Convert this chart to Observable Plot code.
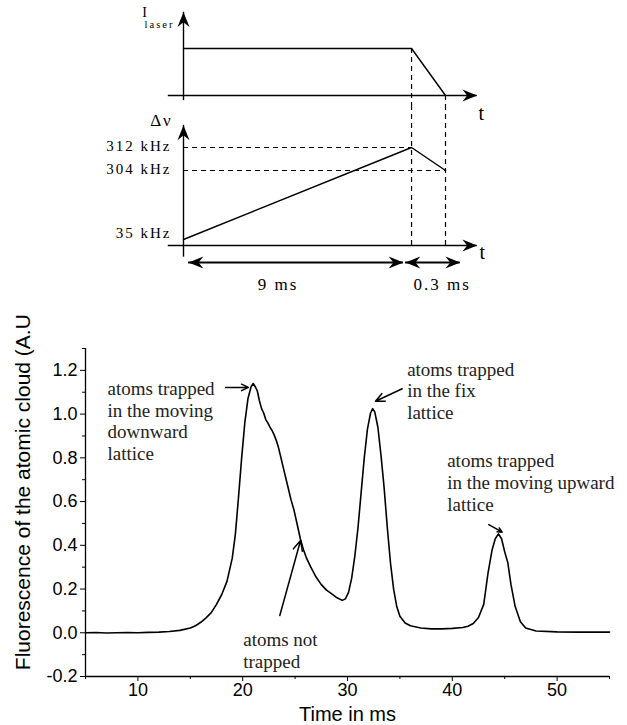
<!DOCTYPE html>
<html><head><meta charset="utf-8">
<script src="https://cdn.jsdelivr.net/npm/d3@7"></script>
<script src="https://cdn.jsdelivr.net/npm/@observablehq/plot@0.6"></script>
<style>
html,body{margin:0;padding:0;background:#fff;}
#fig{width:627px;}
#fig svg{display:block;}
#schem text{letter-spacing:2px;}
#schem svg.freq{margin-top:-22px;}
</style></head><body>
<div id="fig"><div id="schem"></div><div id="main"></div></div>
<script>
// ---------- schematic (timing diagram) data ----------
const rampTimes = [0, 9, 9.3];            // ms : ramp start, ramp end, end of switch-off
const laserT = [0, 9, 9.3];
const laserI = [1, 1, 0];
const freqT = [0, 9, 9.3];
const freqKHz = [35, 312, 304];
const freqTicks = [312, 304, 35];
const freqTickLabels = ["312 kHz", "304 kHz", "35 kHz"];
const durFrom = [0.2, 8.76];
const durTo = [8.68, 9.43];
const durLabelT = [3.73, 9.27];
const durLabels = ["9 ms", "0.3 ms"];
const tAxisStart = -0.6, tAxisEnd = 9.58;
const laserAxisBottom = -0.11, laserAxisTop = 1.77;
const freqAxisBottom = -68, freqAxisTop = 319.7;
// the sketch is not drawn to scale: drawn length of each time / frequency step
const timeKnots = [0, 9, 9.3], timeDrawn = [0, 9, 10.34];
const freqKnots = [0, 35, 304, 312], freqDrawn = [0, 6, 75, 98];

// ---------- measured fluorescence signal ----------
const timeMs = [5,6,7,8,9,10,11,12,13,14,15,15.5,16,16.5,17,17.5,18,18.5,19,19.3,19.6,19.9,20.2,20.5,20.8,21,21.2,21.4,21.6,21.8,22,22.2,22.4,22.6,22.8,23,23.2,23.4,23.6,23.8,24,24.3,24.6,24.9,25.2,25.5,25.8,26.1,26.5,27,27.5,28,28.5,29,29.5,29.8,30.1,30.4,30.7,31,31.3,31.6,31.9,32.2,32.4,32.6,32.9,33.2,33.5,33.8,34.1,34.4,34.7,35,35.5,36,37,38,39,40,41,41.5,42,42.5,43,43.4,43.8,44.1,44.4,44.7,45,45.3,45.6,46,46.5,47,48,50,52,55];
const fluo = [0,0.001,-0.001,0,0.001,0,0.002,0.003,0.006,0.011,0.022,0.032,0.048,0.068,0.092,0.13,0.175,0.235,0.34,0.45,0.62,0.8,0.96,1.07,1.125,1.14,1.125,1.105,1.06,1.025,1.005,0.975,0.96,0.94,0.925,0.905,0.88,0.85,0.81,0.77,0.73,0.67,0.61,0.56,0.495,0.43,0.38,0.34,0.3,0.255,0.22,0.195,0.178,0.16,0.148,0.155,0.185,0.25,0.35,0.48,0.64,0.8,0.93,1.005,1.025,1.01,0.94,0.81,0.66,0.48,0.32,0.2,0.12,0.075,0.045,0.032,0.022,0.018,0.018,0.02,0.024,0.03,0.042,0.07,0.13,0.27,0.38,0.43,0.452,0.43,0.37,0.32,0.22,0.12,0.05,0.022,0.008,0.004,0.003,0.003];

const xMajor = [10, 20, 30, 40, 50];
const xMinor = [5, 15, 25, 35, 45, 55];
const yMajor = [-0.2, 0, 0.2, 0.4, 0.6, 0.8, 1.0, 1.2];
const yMinor = [-0.1, 0.1, 0.3, 0.5, 0.7, 0.9, 1.1, 1.3];

const noteText = ["atoms trapped\nin the moving\ndownward\nlattice", "atoms not\ntrapped", "atoms trapped\nin the fix\nlattice", "atoms trapped\nin the moving upward\nlattice"];
const noteT = [7.1, 20.05, 35.69, 39.51];
const noteF = [0.971, -0.079, 1.108, 0.689];
const arrowT1 = [18.36, 23.54, 35.22, 43.48];
const arrowF1 = [1.122, 0.079, 1.116, 0.495];
const arrowT2 = [20.55, 25.52, 32.67, 44.76];
const arrowF2 = [1.122, 0.422, 1.059, 0.46];

// filled concave arrow-head symbol (tip at the anchor point, pointing up)
const arrowHead = {draw(ctx, size) {
  const s = Math.sqrt(size / Math.PI);
  ctx.moveTo(0, 0); ctx.lineTo(-0.75 * s, 1.85 * s); ctx.lineTo(0, 1.25 * s); ctx.lineTo(0.75 * s, 1.85 * s); ctx.closePath();
}};
const ax = {stroke: "black", strokeWidth: 1.4};
const dash = {stroke: "black", strokeWidth: 1.2, strokeDasharray: "5,4"};
const head = {symbol: arrowHead, r: 8, fill: "black", stroke: "none"};
const serif = "Liberation Serif";
const warpT = d3.scaleLinear().domain(timeKnots).range(timeDrawn);
const warpF = d3.scaleLinear().domain(freqKnots).range(freqDrawn);
const xSchem = {type: "linear", transform: warpT, domain: [0, timeDrawn[2]], range: [183, 445], axis: null};

const laserPlot = Plot.plot({
  width: 627, height: 127, margin: 0,
  x: xSchem,
  y: {domain: [0, 1], range: [95, 48], axis: null},
  style: {fontFamily: serif, background: "white", color: "black", overflow: "hidden"},
  marks: [
    Plot.ruleX([9], {y1: 1, y2: -0.2128, ...dash}),
    Plot.ruleX([9.3], {y1: 0, y2: -0.2128, ...dash}),
    Plot.ruleY([0], {x1: tAxisStart, x2: tAxisEnd, ...ax}),
    Plot.ruleX([0], {y1: laserAxisBottom, y2: laserAxisTop, ...ax}),
    Plot.line(laserT, {x: laserT, y: laserI, stroke: "black", strokeWidth: 1.4}),
    Plot.dot([0], {x: [tAxisEnd], y: [0], rotate: 90, ...head}),
    Plot.dot([0], {x: [0], y: [laserAxisTop], rotate: 0, ...head}),
    Plot.text(["I"], {x: [0], y: [laserAxisTop], dx: -38, dy: 0, fontSize: 14, textAnchor: "middle"}),
    Plot.text(["laser"], {x: [0], y: [laserAxisTop], dx: -24, dy: 12, fontSize: 10.5, textAnchor: "middle"}),
    Plot.text(["t"], {x: [tAxisEnd], y: [0], dx: 5, dy: 18, fontSize: 20, textAnchor: "middle", lineAnchor: "middle"})
  ]
});

const freqPlot = Plot.plot({
  width: 627, height: 195, margin: 0, className: "freq",
  x: xSchem,
  y: {type: "linear", transform: warpF, domain: [0, freqDrawn[3]], range: [140, 42], axis: null},
  style: {fontFamily: serif, background: "none", color: "black", overflow: "hidden"},
  marks: [
    Plot.ruleX([9, 9.3], {y1: 0, y2: 326.6, ...dash}),
    Plot.ruleY([312], {x1: 0, x2: 9, ...dash}),
    Plot.ruleY([304], {x1: 0, x2: 9.3, ...dash}),
    Plot.ruleY([0], {x1: tAxisStart, x2: tAxisEnd, ...ax}),
    Plot.ruleX([0], {y1: freqAxisBottom, y2: freqAxisTop, ...ax}),
    Plot.line(freqT, {x: freqT, y: freqKHz, stroke: "black", strokeWidth: 1.4}),
    Plot.dot([0], {x: [tAxisEnd], y: [0], rotate: 90, ...head}),
    Plot.dot([0], {x: [0], y: [freqAxisTop], rotate: 0, ...head}),
    Plot.text(freqTickLabels.slice(0, 2), {x: [0, 0], y: freqTicks.slice(0, 2), dx: -12, dy: -1, textAnchor: "end", fontSize: 15}),
    Plot.text(freqTickLabels.slice(2), {x: [0], y: freqTicks.slice(2), dx: -12, dy: -6, textAnchor: "end", fontSize: 15}),
    Plot.text(["Δν"], {x: [0], y: [freqAxisTop], dx: -22, dy: -5, fontSize: 17, textAnchor: "middle"}),
    Plot.text(["t"], {x: [tAxisEnd], y: [0], dx: 6, dy: 7, fontSize: 20, textAnchor: "middle"}),
    Plot.ruleY([0, 0], {x1: durFrom, x2: durTo, dy: 17, stroke: "black", strokeWidth: 1.8}),
    Plot.dot(durFrom, {x: durFrom, y: [0, 0], dy: 17, rotate: -90, ...head}),
    Plot.dot(durTo, {x: durTo, y: [0, 0], dy: 17, rotate: 90, ...head}),
    Plot.text(durLabels, {x: durLabelT, y: [0, 0], dy: 39, fontSize: 17, textAnchor: "middle", style: "letter-spacing:2.5px"})
  ]
});

const curve = timeMs.map((t, i) => ({t, f: fluo[i]}));
const mainPlot = Plot.plot({
  width: 627, height: 425,
  marginTop: 48, marginBottom: 49, marginLeft: 85, marginRight: 18,
  x: {domain: [5, 55], label: null},
  y: {domain: [-0.2, 1.3], label: null},
  style: {fontFamily: "Liberation Sans", fontSize: "18px", background: "white", color: "black"},
  marks: [
    Plot.ruleX([5], {y1: -0.2, y2: 1.3, stroke: "black", strokeWidth: 1.3}),
    Plot.ruleY([-0.2], {x1: 5, x2: 55, stroke: "black", strokeWidth: 1.3}),
    Plot.axisY({ticks: yMajor, tickSize: 5, tickPadding: 3, tickFormat: d => d.toFixed(1), label: null, fontSize: 18}),
    Plot.axisY({ticks: yMinor, tickSize: 3, tickFormat: () => "", label: null}),
    Plot.axisX({ticks: xMajor, tickSize: 5, tickPadding: 2, tickFormat: d => String(d), label: null, fontSize: 18}),
    Plot.axisX({ticks: xMinor, tickSize: 3, tickFormat: () => "", label: null}),
    Plot.line(curve, {x: "t", y: "f", stroke: "black", strokeWidth: 1.6}),
    Plot.arrow(arrowT1, {x1: arrowT1, y1: arrowF1, x2: arrowT2, y2: arrowF2, stroke: "black", strokeWidth: 1.5, headLength: 11, headAngle: 50}),
    Plot.text(noteText, {x: noteT, y: noteF, textAnchor: "start", lineAnchor: "middle", lineHeight: 1.15, fontFamily: serif, fontSize: 19, fill: "#222"}),
    Plot.text(["Fluorescence of the atomic cloud (A.U"], {y: [0.643], frameAnchor: "left", dx: -62, rotate: -90, textAnchor: "middle", lineAnchor: "middle", fontSize: 21}),
    Plot.text(["Time in ms"], {frameAnchor: "bottom", dy: 38, fontSize: 20, textAnchor: "middle", lineAnchor: "middle"})
  ]
});

document.getElementById("schem").append(laserPlot, freqPlot);
document.getElementById("main").append(mainPlot);
</script>
</body></html>
